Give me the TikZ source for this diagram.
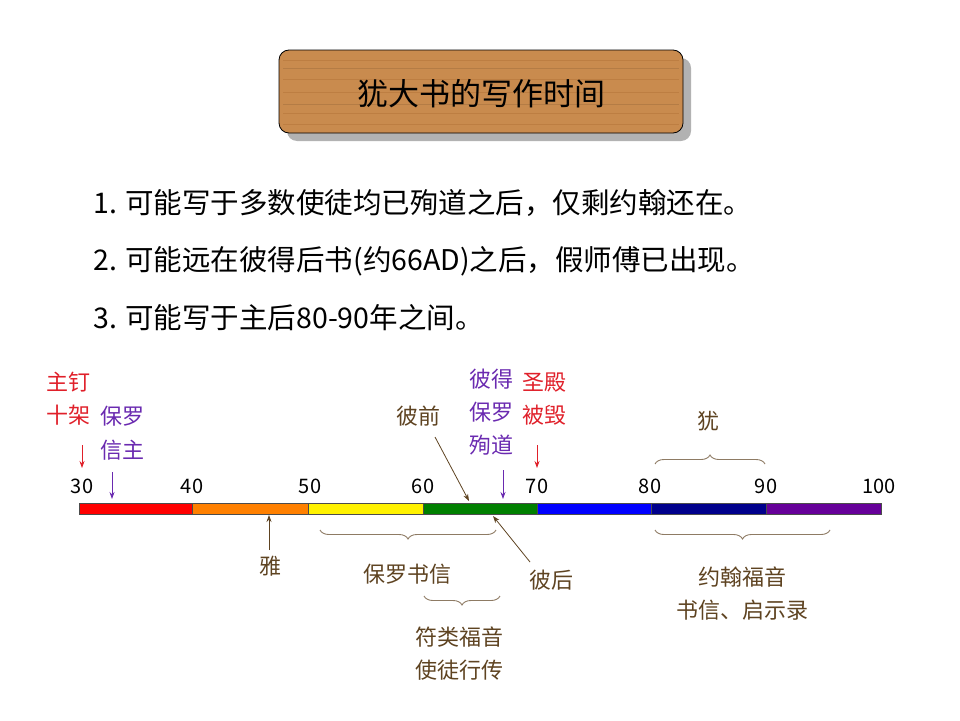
\documentclass[tikz,border=0pt]{standalone}
\usepackage{fontspec}
\setmainfont{Noto Sans CJK SC}
\usetikzlibrary{decorations.pathreplacing,arrows.meta}
\definecolor{wood}{HTML}{C98B4E}
\definecolor{woodd}{HTML}{A8682E}
\definecolor{brn}{HTML}{5E4321}
\definecolor{rd}{HTML}{E0202A}
\definecolor{pu}{HTML}{6A2AB0}
\begin{document}
\begin{tikzpicture}[x=1pt,y=1pt,
  lbl/.style={font=\fontsize{22}{22}\selectfont,inner sep=0pt},
  lst/.style={font=\fontsize{28.5}{28.5}\selectfont,anchor=west,inner sep=0pt},
  arr/.style={-{Stealth[length=7pt,width=5pt]},line width=0.8pt},
  brc/.style={decorate,decoration={brace,amplitude=9pt},draw=brn!70,line width=0.9pt},
  seg/.style={draw=black!70,line width=0.6pt}]
\useasboundingbox (0,0) rectangle (960,-720);
% title
\path[fill=black!30,rounded corners=10pt] (287,-58) rectangle (691,-141);
\path[fill=wood,draw=black,line width=0.8pt,rounded corners=10pt] (279,-50) rectangle (683,-133);
\foreach \yy/\cc in {-60/woodd,-68/wood!70!black,-79/woodd,-92/woodd,-104/wood!70!black,-113/woodd,-124/woodd}
  \draw[\cc,line width=0.6pt,opacity=0.35] (283,\yy) -- (679,\yy);
\node[font=\fontsize{31}{31}\selectfont] (title) at (481,-94) {犹大书的写作时间};
% list
\node[lst] (l1) at (93,-203) {1. 可能写于多数使徒均已殉道之后，仅剩约翰还在。};
\node[lst] (l2) at (93,-261) {2. 可能远在彼得后书(约66AD)之后，假师傅已出现。};
\node[lst] (l3) at (93,-318) {3. 可能写于主后80-90年之间。};
% bar
\foreach \a/\b/\c in {79/192/red,192/308/orange,308/423/yellow,423/537/green!50!black,537/651/blue,651/766/blue!55!black,766/881/violet!80!blue}
  \path[fill=\c,seg] (\a,-503) rectangle (\b,-514);
\foreach \x/\t in {82/30,192/40,310/50,423/60,537/70,650/80,766/90,879/100}
  \node[lbl,font=\fontsize{20}{20}\selectfont] (n\t) at (\x,-486) {\t};
% top labels
\node[lbl,text=rd,align=center] (jesus) at (68,-399) {主钉\\[11pt]十架};
\coordinate (ja) at (82,-445); \coordinate (jb) at (82,-468);
\draw[arr,rd] (ja) -- (jb);
\node[lbl,text=pu] (pb1) at (122,-416) {保罗};
\node[lbl,text=pu] (pb2) at (122,-450) {信主};
\coordinate (pa) at (112,-472); \coordinate (pbb) at (112,-499);
\draw[arr,pu] (pa) -- (pbb);
\node[lbl,text=brn] (p1) at (418,-416) {彼前};
\coordinate (p1a) at (435,-437); \coordinate (p1b) at (469,-501);
\draw[arr,brn] (p1a) -- (p1b);
\node[lbl,text=pu,align=center] (mart) at (491,-412) {彼得\\[11pt]保罗\\[11pt]殉道};
\coordinate (ma) at (503,-470); \coordinate (mb) at (503,-499);
\draw[arr,pu] (ma) -- (mb);
\node[lbl,text=rd,align=center] (temple) at (544,-399) {圣殿\\[11pt]被毁};
\coordinate (ta) at (537,-445); \coordinate (tb) at (537,-468);
\draw[arr,rd] (ta) -- (tb);
\node[lbl,text=brn] (jude) at (708,-421) {犹};
\coordinate (j1) at (655,-464); \coordinate (j2) at (765,-464);
\draw[brc] (j1) -- (j2);
% bottom labels
\node[lbl,text=brn] (jas) at (270,-566) {雅};
\coordinate (jsa) at (269,-550); \coordinate (jsb) at (269,-515);
\draw[arr,brn] (jsa) -- (jsb);
\coordinate (b1) at (496,-530); \coordinate (b2) at (320,-530);
\draw[brc] (b1) -- (b2);
\node[lbl,text=brn] (paul) at (407,-574) {保罗书信};
\node[lbl,text=brn] (p2) at (551,-580) {彼后};
\coordinate (p2a) at (530,-562); \coordinate (p2b) at (493,-516);
\draw[arr,brn] (p2a) -- (p2b);
\coordinate (c1) at (500,-596); \coordinate (c2) at (424,-596);
\draw[brc] (c1) -- (c2);
\node[lbl,text=brn,align=center] (syn) at (459,-654) {符类福音\\[11pt]使徒行传};
\coordinate (d1) at (830,-530); \coordinate (d2) at (655,-530);
\draw[brc] (d1) -- (d2);
\node[lbl,text=brn,align=center] (john) at (742,-594) {约翰福音\\[11pt]书信、启示录};
\end{tikzpicture}
\end{document}
